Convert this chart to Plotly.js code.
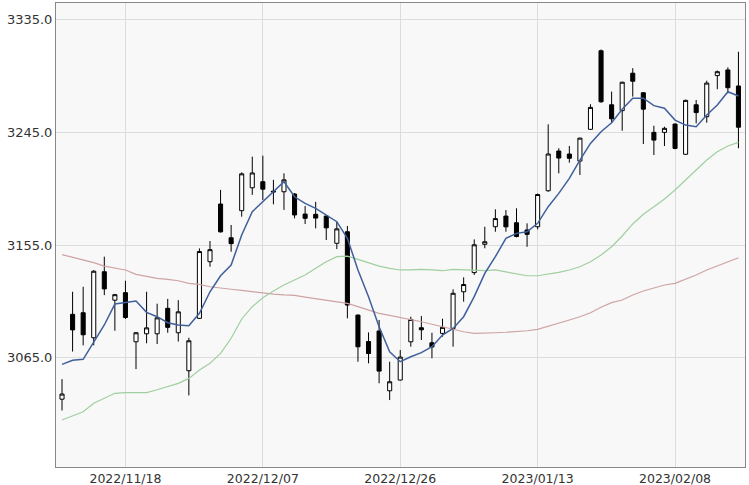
<!DOCTYPE html>
<html>
<head>
<meta charset="utf-8">
<script src="https://cdn.plot.ly/plotly-3.0.1.min.js"></script>
<style>html,body{margin:0;padding:0;background:#fff;}#chart{width:749px;height:485px;}</style>
</head>
<body>
<div id="chart"></div>
<script>
var dates = ["2022/11/10","2022/11/11","2022/11/14","2022/11/15","2022/11/16","2022/11/17","2022/11/18","2022/11/21","2022/11/22","2022/11/23","2022/11/24","2022/11/25","2022/11/28","2022/11/29","2022/11/30","2022/12/01","2022/12/02","2022/12/05","2022/12/06","2022/12/07","2022/12/08","2022/12/09","2022/12/12","2022/12/13","2022/12/14","2022/12/15","2022/12/16","2022/12/19","2022/12/20","2022/12/21","2022/12/22","2022/12/23","2022/12/26","2022/12/27","2022/12/28","2022/12/29","2022/12/30","2023/01/03","2023/01/04","2023/01/05","2023/01/06","2023/01/09","2023/01/10","2023/01/11","2023/01/12","2023/01/13","2023/01/16","2023/01/17","2023/01/18","2023/01/19","2023/01/20","2023/01/30","2023/01/31","2023/02/01","2023/02/02","2023/02/03","2023/02/06","2023/02/07","2023/02/08","2023/02/09","2023/02/10","2023/02/13","2023/02/14","2023/02/15","2023/02/16"];
var openV = [3032,3099.7,3101,3081,3133.7,3111,3117,3077.8,3084.2,3084.2,3104.5,3085,3054.7,3096.5,3141.7,3187.7,3160.8,3182.4,3200.7,3205.5,3198,3197.5,3195.7,3179.7,3179.5,3178.1,3156.4,3165.6,3099.1,3078,3086.4,3038.7,3047.3,3077.8,3089,3077,3084.5,3088.5,3117.7,3133,3155.6,3169.6,3178.1,3172.8,3167,3169.6,3198.3,3230,3227.6,3222,3247.3,3310,3266.9,3262.2,3292.1,3276.5,3244.9,3244.9,3251.5,3227.4,3266.9,3257.4,3290.2,3294.7,3281.9];
var highV = [3048,3117.7,3121.7,3135,3145.7,3116,3126.5,3085.5,3117.7,3108.2,3112,3111,3081,3152.3,3158.2,3199,3171,3213,3225.5,3226.3,3207,3212.2,3196.5,3186.1,3189.5,3178.6,3173.6,3170.2,3099.6,3085.3,3095.2,3061.9,3071.2,3097.8,3098.3,3085,3096.2,3119.7,3129.2,3159.5,3169.6,3183.5,3182.9,3184.3,3172.3,3196,3251.3,3232.2,3234,3240.6,3267.3,3311,3277.4,3285.2,3296.1,3277,3250.2,3249.4,3252,3271,3270.7,3286.1,3294.2,3296.8,3309.2];
var lowV = [3023,3070,3075,3075,3115,3086.6,3096,3056,3076.6,3076,3085,3078,3035,3096,3137.7,3165,3149.7,3177.6,3195,3191,3187.5,3183,3176.3,3171.8,3168.3,3159,3151.8,3096.5,3061.9,3060.6,3044.7,3031.3,3047,3073.9,3079.2,3064.6,3081.9,3073.9,3109.8,3131.1,3152.4,3165.6,3165.6,3161.1,3153.6,3167.5,3197.5,3212.2,3220.7,3210.9,3247,3268.5,3252.6,3246.2,3273.4,3235.6,3226.8,3234,3231.4,3227,3252.1,3252.6,3279.3,3276,3232.2];
var closeV = [3036.1,3087.3,3083.4,3134.1,3120,3115.4,3097.2,3085,3088.9,3096.9,3089.3,3101.7,3078.6,3149.8,3151.3,3165.5,3156.1,3211.8,3212.5,3199.6,3197.4,3207,3179,3176.3,3176.5,3168.7,3167.9,3107.1,3073.8,3068.4,3054.4,3045.9,3065.6,3095.6,3087.4,3073.7,3089.3,3116.5,3123.5,3155.2,3157.6,3176.1,3169.5,3161.8,3163.5,3195.3,3227.6,3224.4,3224.2,3240.3,3264.8,3269.3,3255.7,3284.9,3285.7,3263.4,3238.7,3248.1,3232.1,3270.4,3260.7,3284.2,3293.3,3280.5,3249];
var ma5 = [3059.8,3063.0,3063.8,3077.8,3091.2,3107.9,3109.3,3110.3,3101.3,3097.8,3093.0,3091.2,3090.6,3100.5,3117.7,3130.5,3139.0,3163.0,3181.6,3189.5,3197.5,3205.5,3193.5,3188.2,3184.3,3178.9,3173.6,3160.3,3135.1,3113.8,3089.8,3069.9,3061.9,3065.9,3069.1,3073.9,3083.2,3088.5,3097.8,3113.8,3132.4,3145.7,3160.3,3164.3,3165.6,3172.3,3185.6,3196.2,3208.2,3222.8,3236.1,3245.4,3252.6,3263.3,3272.1,3272.1,3266.2,3264.1,3254.7,3250.7,3249.4,3258.7,3266.7,3277.3,3273.9];
var ma25 = [3015.4,3018.5,3022.0,3028.7,3033.0,3036.7,3037.2,3037.2,3037.2,3039.5,3041.9,3044.6,3048.6,3055.3,3060.6,3068.6,3080.6,3096.0,3105.8,3113.0,3118.3,3123.1,3127.1,3131.1,3136.4,3141.7,3145.7,3146.2,3143.6,3140.9,3138.2,3136.4,3135.1,3135.1,3135.6,3135.1,3134.5,3135.6,3135.1,3135.1,3134.5,3135.1,3133.7,3131.9,3130.5,3130.5,3131.6,3133.2,3135.1,3137.7,3141.7,3147.0,3153.6,3162.2,3171.8,3179.5,3185.6,3191.7,3198.9,3206.9,3214.9,3222.8,3229.4,3234.0,3236.9];
var ma75 = [3147.3,3145.2,3143.0,3140.9,3138.2,3136.4,3135.1,3131.6,3129.7,3128.4,3127.6,3126.5,3124.4,3123.6,3121.7,3121.0,3119.7,3118.8,3117.7,3116.5,3115.8,3115.2,3114.8,3113.5,3112.3,3111.1,3109.8,3108.5,3105.8,3103.2,3100.5,3098.9,3097.3,3095.5,3093.8,3091.8,3089.8,3087.8,3085.8,3084.5,3084.5,3085.0,3085.4,3085.8,3086.6,3087.7,3090.0,3092.5,3095.2,3097.8,3101.0,3105.3,3109.0,3111.1,3115.1,3118.3,3121.0,3123.1,3124.4,3127.6,3131.1,3135.1,3138.5,3141.7,3144.9];
var xTicks = ["2022/11/18","2022/12/07","2022/12/26","2023/01/13","2023/02/08"];
var yTicks = [3065,3155,3245,3335];

var traces = [
  {type:'scatter', mode:'lines', x:dates, y:ma75, line:{color:'#cfa3a3', width:1.2}, hoverinfo:'skip'},
  {type:'scatter', mode:'lines', x:dates, y:ma25, line:{color:'#9fcf9f', width:1.2}, hoverinfo:'skip'},
  {type:'scatter', mode:'lines', x:dates, y:ma5, line:{color:'#3f5f9c', width:1.5}, hoverinfo:'skip'},
  {type:'candlestick', x:dates, open:openV, high:highV, low:lowV, close:closeV,
   increasing:{line:{color:'#000', width:1}, fillcolor:'#ffffff'},
   decreasing:{line:{color:'#000', width:1}, fillcolor:'#000000'},
   whiskerwidth:0}
];
var layout = {
  width:749, height:485,
  margin:{l:56, r:4, t:3, b:18},
  paper_bgcolor:'#ffffff', plot_bgcolor:'#f8f8f8',
  showlegend:false,
  boxgap:0.45,
  font:{family:'DejaVu Sans, Verdana, sans-serif', size:13, color:'#333'},
  xaxis:{type:'category', range:[-0.57,64.62], rangeslider:{visible:false},
    tickmode:'array', tickvals:xTicks, ticktext:xTicks,
    showgrid:true, gridcolor:'#dcdcdc', gridwidth:1,
    showline:true, mirror:true, linecolor:'#888', linewidth:1,
    ticks:'', ticklen:0, zeroline:false, tickfont:{size:12.5, color:'#333'}},
  yaxis:{range:[2977.9,3348.1], tickmode:'array', tickvals:yTicks,
    ticktext:yTicks.map(function(v){return v.toFixed(1);}),
    showgrid:true, gridcolor:'#dcdcdc', gridwidth:1,
    showline:true, mirror:true, linecolor:'#888', linewidth:1,
    ticks:'', zeroline:false, tickfont:{size:13, color:'#333'}}
};
Plotly.newPlot('chart', traces, layout, {staticPlot:true, displayModeBar:false});
</script>
</body>
</html>
